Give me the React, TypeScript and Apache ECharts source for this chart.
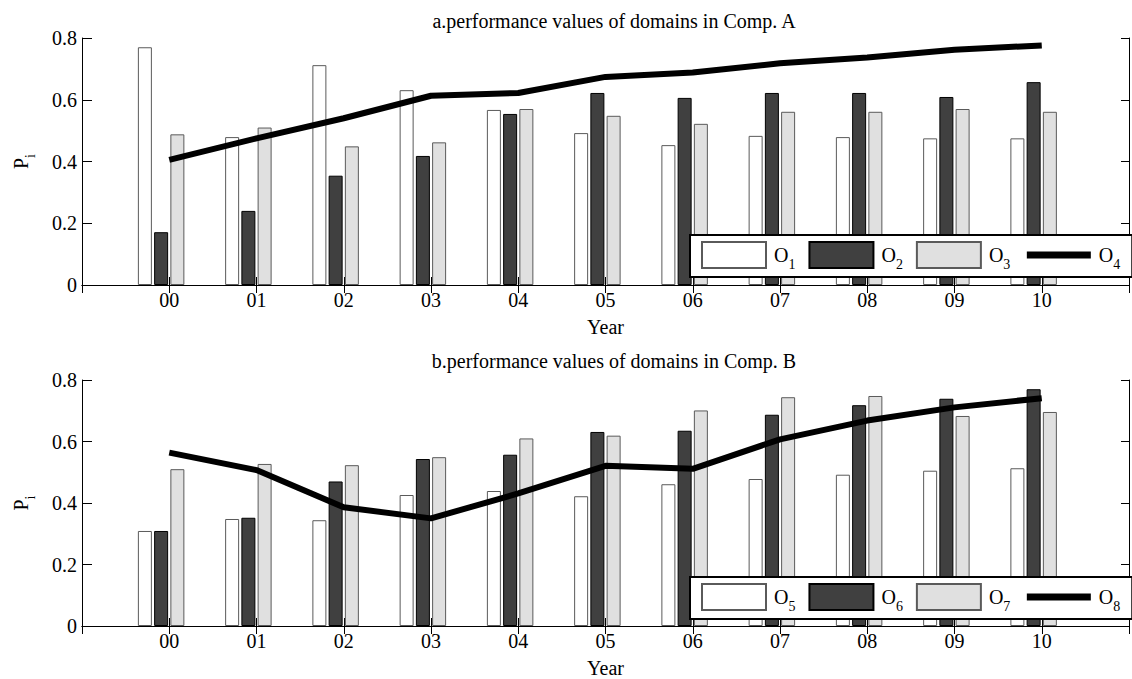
import React, { useEffect, useRef } from "react";
import * as echarts from "echarts";

const years = ["00", "01", "02", "03", "04", "05", "06", "07", "08", "09", "10"];
const yTicks = [0, 0.2, 0.4, 0.6, 0.8];

const O1 = [0.770, 0.479, 0.712, 0.631, 0.567, 0.492, 0.453, 0.483, 0.479, 0.475, 0.475];
const O2 = [0.171, 0.240, 0.354, 0.418, 0.554, 0.622, 0.606, 0.622, 0.622, 0.609, 0.657];
const O3 = [0.488, 0.510, 0.449, 0.462, 0.570, 0.548, 0.522, 0.561, 0.561, 0.570, 0.561];
const O4 = [0.405, 0.475, 0.540, 0.613, 0.622, 0.674, 0.688, 0.718, 0.737, 0.762, 0.776];

const O5 = [0.309, 0.348, 0.344, 0.426, 0.439, 0.422, 0.461, 0.478, 0.492, 0.505, 0.513];
const O6 = [0.309, 0.352, 0.470, 0.543, 0.557, 0.631, 0.635, 0.687, 0.718, 0.739, 0.770];
const O7 = [0.510, 0.527, 0.523, 0.549, 0.610, 0.619, 0.701, 0.744, 0.748, 0.683, 0.696];
const O8 = [0.564, 0.507, 0.386, 0.350, 0.431, 0.521, 0.511, 0.607, 0.668, 0.711, 0.741];

const titleA = "a.performance values of domains in Comp. A";
const titleB = "b.performance values of domains in Comp. B";

const FONT = "Liberation Serif";

export default function App() {
  const ref = useRef<HTMLDivElement>(null);
  useEffect(() => {
    if (!ref.current) return;
    const chart = echarts.init(ref.current, undefined, { renderer: "svg" });
    const cats = ["", ...years, ""];
    const pad = (a: number[]) => [null, ...a, null];

    const xBottom = (gridIndex: number) => ({
      type: "category",
      gridIndex,
      data: cats,
      boundaryGap: false,
      position: "bottom",
      name: "Year",
      nameLocation: "middle",
      nameGap: 32,
      nameTextStyle: { fontFamily: FONT, fontSize: 20, color: "#000" },
      axisLine: { show: true, lineStyle: { color: "#000", width: 1 } },
      axisTick: { show: true, inside: true, length: 8, interval: 0, lineStyle: { color: "#000" } },
      axisLabel: { interval: 0, fontFamily: FONT, fontSize: 20, color: "#000", margin: 5 },
      splitLine: { show: false },
    });
    const xTop = (gridIndex: number) => ({
      type: "category",
      gridIndex,
      data: cats,
      boundaryGap: false,
      position: "top",
      axisLine: { show: true, lineStyle: { color: "#000", width: 1 } },
      axisTick: { show: true, inside: true, length: 8, interval: 0, lineStyle: { color: "#000" } },
      axisLabel: { show: false },
      splitLine: { show: false },
    });
    const yLeft = (gridIndex: number) => ({
      type: "value",
      gridIndex,
      min: yTicks[0],
      max: yTicks[yTicks.length - 1],
      interval: 0.2,
      position: "left",
      name: "{p|P}{s|i}",
      nameLocation: "middle",
      nameGap: 45,
      nameRotate: 90,
      nameTextStyle: {
        rich: {
          p: { fontFamily: FONT, fontSize: 20, color: "#000", lineHeight: 32 },
          s: { fontFamily: FONT, fontSize: 14, color: "#000", verticalAlign: "bottom", lineHeight: 14 },
        },
      },
      axisLine: { show: true, lineStyle: { color: "#000", width: 1 } },
      axisTick: { show: true, inside: true, length: 10, lineStyle: { color: "#000" } },
      axisLabel: {
        fontFamily: FONT,
        fontSize: 20,
        color: "#000",
        margin: 5,
        formatter: (v: number) => (v === 0 ? "0" : v.toFixed(1)),
      },
      splitLine: { show: false },
    });
    const yRight = (gridIndex: number) => ({
      type: "value",
      gridIndex,
      min: yTicks[0],
      max: yTicks[yTicks.length - 1],
      interval: 0.2,
      position: "right",
      axisLine: { show: true, lineStyle: { color: "#000", width: 1 } },
      axisTick: { show: true, inside: true, length: 8, lineStyle: { color: "#000" } },
      axisLabel: { show: false },
      splitLine: { show: false },
    });

    const barStyles = [
      { color: "#ffffff", borderColor: "#5a5a5a", borderWidth: 1 },
      { color: "#404040", borderColor: "#000000", borderWidth: 1 },
      { color: "#e0e0e0", borderColor: "#5a5a5a", borderWidth: 1 },
    ];

    const barSeries = (name: string, data: number[], idx: number, style: any) => ({
      name,
      type: "bar",
      xAxisIndex: idx * 2,
      yAxisIndex: idx * 2,
      data: pad(data),
      barWidth: 14,
      barGap: "16%",
      itemStyle: style,
      emphasis: { disabled: true },
      z: 2,
    });
    const spacer = (name: string, idx: number) => ({
      name,
      type: "bar",
      xAxisIndex: idx * 2,
      yAxisIndex: idx * 2,
      data: cats.map(() => null),
      barWidth: 14,
      barGap: "16%",
      itemStyle: { color: "rgba(0,0,0,0)" },
      silent: true,
    });
    const lineSeries = (name: string, data: number[], idx: number) => ({
      name,
      type: "line",
      xAxisIndex: idx * 2,
      yAxisIndex: idx * 2,
      data: pad(data),
      symbol: "none",
      lineStyle: { color: "#000", width: 6 },
      itemStyle: { color: "#000" },
      z: 3,
    });

    const legend = (names: string[], top: number) => ({
      data: [
        { name: names[0], icon: "rect" },
        { name: names[1], icon: "rect" },
        { name: names[2], icon: "rect" },
        { name: names[3], itemStyle: { opacity: 0 }, lineStyle: { width: 7, color: "#000" } },
      ],
      left: 690,
      top,
      width: 440,
      orient: "horizontal",
      itemWidth: 64,
      itemHeight: 26,
      itemGap: 13,
      padding: [6, 12, 6, 11],
      borderColor: "#000",
      borderWidth: 2,
      borderRadius: 0,
      backgroundColor: "#fff",
      selectedMode: false,
      z: 10,
      formatter: (n: string) => `{o|O}{s|${n.slice(1)}}`,
      textStyle: {
        rich: {
          o: { fontFamily: FONT, fontSize: 20, color: "#000", lineHeight: 32, padding: [0, 0, 0, 3] },
          s: { fontFamily: FONT, fontSize: 14, color: "#000", verticalAlign: "bottom", lineHeight: 14 },
        },
      },
    });

    chart.setOption({
      animation: false,
      backgroundColor: "#fff",
      textStyle: { fontFamily: FONT },
      title: [
        {
          text: titleA,
          left: 609,
          top: 6,
          textAlign: "center",
          textStyle: { fontFamily: FONT, fontSize: 20, fontWeight: "normal", color: "#000" },
        },
        {
          text: titleB,
          left: 609,
          top: 346,
          textAlign: "center",
          textStyle: { fontFamily: FONT, fontSize: 20, fontWeight: "normal", color: "#000" },
        },
      ],
      grid: [
        { left: 82, right: -4, top: 38, height: 247 },
        { left: 82, right: -4, top: 380, height: 246 },
      ],
      xAxis: [xBottom(0), xTop(0), xBottom(1), xTop(1)],
      yAxis: [yLeft(0), yRight(0), yLeft(1), yRight(1)],
      legend: [legend(["O1", "O2", "O3", "O4"], 235), legend(["O5", "O6", "O7", "O8"], 577)],
      series: [
        barSeries("O1", O1, 0, barStyles[0]),
        barSeries("O2", O2, 0, barStyles[1]),
        barSeries("O3", O3, 0, barStyles[2]),
        spacer("gapA", 0),
        lineSeries("O4", O4, 0),
        barSeries("O5", O5, 1, barStyles[0]),
        barSeries("O6", O6, 1, barStyles[1]),
        barSeries("O7", O7, 1, barStyles[2]),
        spacer("gapB", 1),
        lineSeries("O8", O8, 1),
      ],
    });
    return () => chart.dispose();
  }, []);
  return (
    <div
      ref={ref}
      style={{ position: "fixed", left: 0, top: 0, width: 1132, height: 679, background: "#fff" }}
    />
  );
}
